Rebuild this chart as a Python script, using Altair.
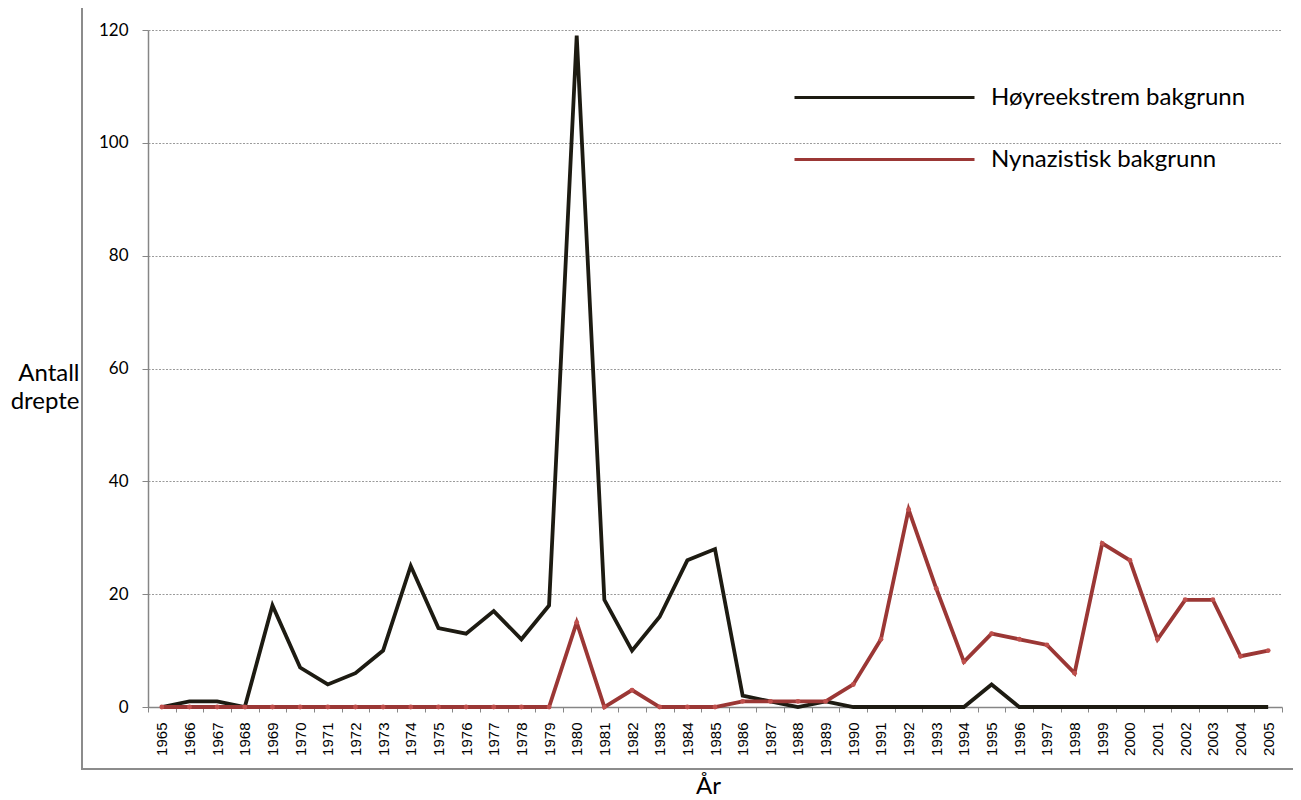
import altair as alt
import pandas as pd

years = ["1965", "1966", "1967", "1968", "1969", "1970", "1971", "1972", "1973", "1974",
         "1975", "1976", "1977", "1978", "1979", "1980", "1981", "1982", "1983", "1984",
         "1985", "1986", "1987", "1988", "1989", "1990", "1991", "1992", "1993", "1994",
         "1995", "1996", "1997", "1998", "1999", "2000", "2001", "2002", "2003", "2004", "2005"]

hoyre = [0, 1, 1, 0, 18, 7, 4, 6, 10, 25,
         14, 13, 17, 12, 18, 119, 19, 10, 16, 26,
         28, 2, 1, 0, 1, 0, 0, 0, 0, 0,
         4, 0, 0, 0, 0, 0, 0, 0, 0, 0, 0]

nynazi = [0, 0, 0, 0, 0, 0, 0, 0, 0, 0,
          0, 0, 0, 0, 0, 15, 0, 3, 0, 0,
          0, 1, 1, 1, 1, 4, 12, 35, 21, 8,
          13, 12, 11, 6, 29, 26, 12, 19, 19, 9, 10]

series_names = ["Høyreekstrem bakgrunn", "Nynazistisk bakgrunn"]
series_colors = ["#1d1b12", "#9b3735"]
y_ticks = [0, 20, 40, 60, 80, 100, 120]

rows = []
for name, vals in zip(series_names, [hoyre, nynazi]):
    for yr, v in zip(years, vals):
        rows.append({"År": yr, "Antall": v, "Serie": name})
df = pd.DataFrame(rows)

x_enc = alt.X(
    "År:O", sort=years,
    scale=alt.Scale(type="band", paddingInner=0, paddingOuter=0),
    axis=alt.Axis(
        labelAngle=270, labelAlign="right", labelBaseline="middle",
        labelFont="Liberation Sans", labelFontSize=15, labelColor="black",
        labelPadding=10, tickSize=5, tickBand="extent",
        domainColor="#868686", tickColor="#868686", domainWidth=1.5,
        grid=False, title="År", titleFont="Lato", titleFontSize=24,
        titleFontWeight="normal", titleColor="black",
        titleBaseline="alphabetic", titleY=86, titleX=560,
    ),
)
y_enc = alt.Y(
    "Antall:Q",
    scale=alt.Scale(domain=[0, 120], nice=False),
    axis=alt.Axis(
        values=y_ticks, grid=True, gridDash=[2, 1.5], gridColor="#9a9a9a",
        gridWidth=1, tickSize=6, labelPadding=14, labelFont="Lato",
        labelFontSize=17, labelColor="black", domainColor="#868686",
        tickColor="#868686", domainWidth=1.5,
        title=["Antall", "drepte"], titleAngle=0, titleAlign="right",
        titleBaseline="alphabetic", titleX=-69, titleY=350,
        titleFont="Lato", titleFontSize=24, titleFontWeight="normal",
        titleColor="black", titleLineHeight=28,
    ),
)


def legend_at(y):
    return alt.Legend(
        orient="none", legendX=645, legendY=y, title=None,
        symbolType="stroke", symbolSize=32400, symbolStrokeWidth=3,
        labelFont="Lato", labelFontSize=24, labelColor="black",
        labelOffset=15, labelLimit=0,
    )


def series_layer(i, legend_y):
    return alt.Chart(df).transform_filter(
        alt.datum.Serie == series_names[i]
    ).mark_line(strokeWidth=3.8).encode(
        x=x_enc, y=y_enc,
        color=alt.Color(
            "Serie:N",
            scale=alt.Scale(domain=[series_names[i]], range=[series_colors[i]]),
            legend=legend_at(legend_y),
        ),
    )


black_line = series_layer(0, -24)
red_line = series_layer(1, 38)

points = alt.Chart(df).transform_filter(
    alt.datum.Serie == series_names[1]
).mark_circle(size=24, color="#c0504d", opacity=1).encode(
    x=alt.X("År:O", sort=years), y=alt.Y("Antall:Q"),
)

frame = alt.Chart(df).mark_rect(filled=False, stroke="#8c8c8c", strokeWidth=1.5).encode(
    x=alt.value(-66), x2=alt.value(1200), y=alt.value(-23), y2=alt.value(739),
)

chart = alt.layer(frame, black_line, red_line, points).resolve_scale(
    color="independent"
).properties(
    width=1134, height=677,
    autosize=alt.AutoSizeParams(type="none"),
    padding={"left": 140, "top": 22, "right": 11, "bottom": 90},
).configure_view(stroke=None)

chart.save("out.html", embed_options={"renderer": "svg", "actions": False})
